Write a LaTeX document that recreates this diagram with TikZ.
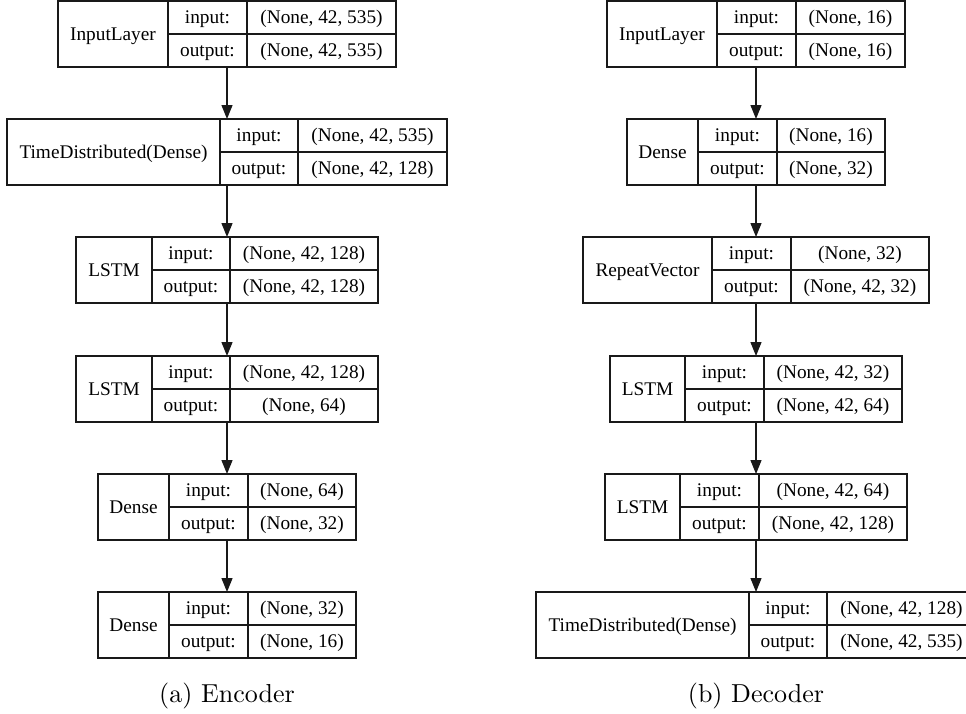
\documentclass[tikz,border=0pt]{standalone}
\usepackage{fontspec}
\newfontfamily\tfont{Liberation Serif}
\newfontfamily\capfont{lmroman10-regular.otf}
\usetikzlibrary{arrows.meta}
\tikzset{
  box/.style={draw=black!90, line width=1.3pt, inner sep=0pt, outer sep=0pt, rectangle},
  sep/.style={draw=black!90, line width=1.3pt},
  txt/.style={font=\tfont\fontsize{19.3}{23}\selectfont, inner sep=0pt, anchor=base, yshift=-6.4pt},
  arr/.style={draw=black!90, line width=1.3pt, -{Triangle[length=14pt,width=11pt]}},
  captext/.style={font=\capfont\fontsize{26}{30}\selectfont, inner sep=0pt, anchor=base}
}
% name, x1, xd1, xd2, x2, y1, y2, label, input value
\newcommand\kbox[9]{%
  \node[box, minimum width={(#5-#2)*1pt}, minimum height={(#7-#6)*1pt}] (#1) at ({(#2+#5)/2},{(#6+#7)/2}) {};
  \draw[sep] (#3,#6) -- (#3,#7);
  \draw[sep] (#4,#6) -- (#4,#7);
  \draw[sep] (#3,{(#6+#7)/2}) -- (#5,{(#6+#7)/2});
  \node[txt] (#1-l) at ({(#2+#3)/2},{(#6+#7)/2}) {#8};
  \node[txt] (#1-i) at ({(#3+#4)/2},{(3*#6+#7)/4}) {input:};
  \node[txt] (#1-iv) at ({(#4+#5)/2},{(3*#6+#7)/4}) {#9};
  \node[txt] (#1-o) at ({(#3+#4)/2},{(#6+3*#7)/4}) {output:};
  \coordinate (#1-w) at ({(#4+#5)/2},{(#6+3*#7)/4});
}
\newcommand\kout[2]{\node[txt] (#1-ov) at (#1-w) {#2};}
\begin{document}
\begin{tikzpicture}[x=1pt,y=-1pt]
\useasboundingbox (0,0) rectangle (966,713);
% Encoder
\kbox{e1}{58}{168}{247}{396}{1}{67}{InputLayer}{(None, 42, 535)}
\kout{e1}{(None, 42, 535)}
\kbox{e2}{7}{220}{298}{447}{119}{185}{TimeDistributed(Dense)}{(None, 42, 535)}
\kout{e2}{(None, 42, 128)}
\kbox{e3}{76}{152}{230}{378}{237}{303}{LSTM}{(None, 42, 128)}
\kout{e3}{(None, 42, 128)}
\kbox{e4}{76}{152}{230}{378}{356}{422}{LSTM}{(None, 42, 128)}
\kout{e4}{(None, 64)}
\kbox{e5}{98}{169}{248}{356}{474}{540}{Dense}{(None, 64)}
\kout{e5}{(None, 32)}
\kbox{e6}{98}{169}{248}{356}{592}{658}{Dense}{(None, 32)}
\kout{e6}{(None, 16)}
\foreach \a/\b in {e1/e2,e2/e3,e3/e4,e4/e5,e5/e6}
  \draw[arr] (\a.south) -- (\a.south |- \b.north);
\node[captext] (capa) at (227,702) {(a) Encoder};
% Decoder
\kbox{d1}{607}{717}{796}{905}{1}{67}{InputLayer}{(None, 16)}
\kout{d1}{(None, 16)}
\kbox{d2}{627}{698}{777}{885}{119}{185}{Dense}{(None, 16)}
\kout{d2}{(None, 32)}
\kbox{d3}{583}{712}{791}{929}{237}{303}{RepeatVector}{(None, 32)}
\kout{d3}{(None, 42, 32)}
\kbox{d4}{610}{685}{764}{902}{356}{422}{LSTM}{(None, 42, 32)}
\kout{d4}{(None, 42, 64)}
\kbox{d5}{605}{680}{759}{907}{474}{540}{LSTM}{(None, 42, 64)}
\kout{d5}{(None, 42, 128)}
\kbox{d6}{536}{749}{827}{976}{592}{658}{TimeDistributed(Dense)}{(None, 42, 128)}
\kout{d6}{(None, 42, 535)}
\foreach \a/\b in {d1/d2,d2/d3,d3/d4,d4/d5,d5/d6}
  \draw[arr] (\a.south) -- (\a.south |- \b.north);
\node[captext] (capb) at (756,702) {(b) Decoder};
\end{tikzpicture}
\end{document}
